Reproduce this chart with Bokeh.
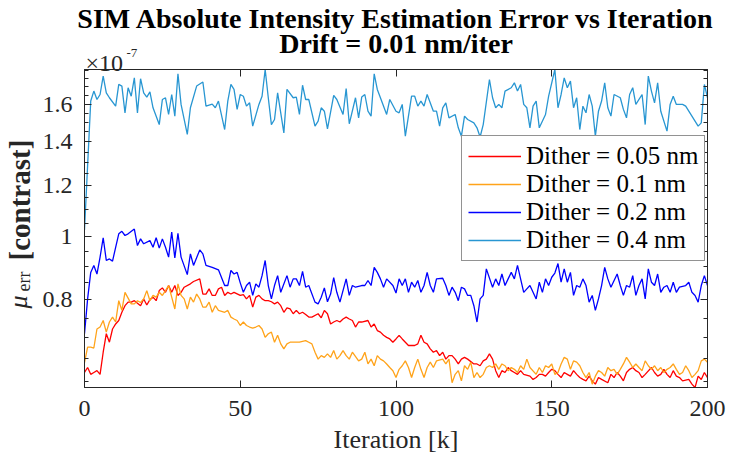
from math import pi

from bokeh.plotting import figure
from bokeh.models import (Range1d, FixedTicker, LinearAxis, LogAxis, Legend,
                          LegendItem, Label, Title, CustomJSTickFormatter)
from bokeh.embed import file_html
from bokeh.resources import INLINE

# ---- data: estimation error (units of 1e-7 contrast) vs iteration [k] ----
iter_d005 = [0, 1, 2, 3, 4, 5, 6, 7, 8, 9,
             10, 11, 12, 13, 14, 15, 16, 18, 19, 20,
             21, 22, 23, 24, 25, 26, 27, 28, 29, 30,
             31, 32, 34, 35, 37, 38, 39, 40, 41, 42,
             43, 44, 45, 46, 47, 48, 50, 51, 52, 53,
             54, 55, 56, 57, 58, 59, 60, 61, 62, 63,
             64, 65, 66, 67, 68, 69, 70, 71, 72, 73,
             75, 76, 77, 78, 79, 80, 81, 82, 83, 84,
             85, 86, 87, 88, 89, 91, 92, 93, 94, 95,
             96, 97, 98, 99, 100, 101, 102, 103, 104, 106,
             107, 108, 109, 110, 111, 112, 113, 114, 115, 116,
             117, 118, 119, 120, 121, 122, 123, 125, 126, 127,
             128, 129, 130, 131, 132, 133, 134, 135, 136, 137,
             138, 139, 140, 141, 143, 144, 145, 146, 147, 148,
             149, 150, 151, 152, 153, 154, 155, 156, 157, 158,
             159, 160, 161, 162, 163, 164, 165, 166, 168, 169,
             170, 171, 172, 173, 174, 175, 176, 177, 178, 179,
             180, 182, 183, 184, 185, 186, 187, 188, 189, 190,
             191, 192, 194, 195, 196, 197, 198, 199, 200]
err_d005 = [0.619, 0.630, 0.615, 0.619, 0.623, 0.615, 0.665, 0.710, 0.689, 0.722,
            0.735, 0.744, 0.766, 0.784, 0.794, 0.794, 0.798, 0.784, 0.803, 0.786,
            0.801, 0.808, 0.798, 0.827, 0.835, 0.822, 0.842, 0.822, 0.842, 0.813,
            0.822, 0.837, 0.847, 0.854, 0.862, 0.817, 0.817, 0.832, 0.813, 0.813,
            0.832, 0.837, 0.813, 0.822, 0.817, 0.822, 0.813, 0.815, 0.803, 0.813,
            0.780, 0.808, 0.813, 0.803, 0.798, 0.798, 0.795, 0.789, 0.794, 0.784,
            0.766, 0.778, 0.775, 0.762, 0.771, 0.762, 0.766, 0.760, 0.753, 0.753,
            0.762, 0.751, 0.771, 0.762, 0.735, 0.740, 0.744, 0.740, 0.748, 0.753,
            0.748, 0.744, 0.727, 0.740, 0.740, 0.744, 0.727, 0.735, 0.718, 0.714,
            0.706, 0.701, 0.697, 0.689, 0.697, 0.706, 0.697, 0.689, 0.681, 0.681,
            0.685, 0.706, 0.689, 0.685, 0.673, 0.665, 0.669, 0.657, 0.665, 0.649,
            0.657, 0.657, 0.649, 0.638, 0.649, 0.653, 0.649, 0.638, 0.638, 0.634,
            0.645, 0.649, 0.661, 0.649, 0.623, 0.608, 0.623, 0.619, 0.630, 0.623,
            0.619, 0.615, 0.623, 0.615, 0.611, 0.604, 0.608, 0.615, 0.615, 0.611,
            0.619, 0.626, 0.623, 0.615, 0.608, 0.619, 0.615, 0.611, 0.623, 0.615,
            0.608, 0.604, 0.601, 0.611, 0.601, 0.594, 0.608, 0.604, 0.597, 0.615,
            0.608, 0.619, 0.611, 0.601, 0.619, 0.626, 0.630, 0.623, 0.619, 0.608,
            0.615, 0.630, 0.619, 0.611, 0.615, 0.626, 0.615, 0.608, 0.623, 0.611,
            0.608, 0.601, 0.604, 0.594, 0.587, 0.611, 0.604, 0.619, 0.608]

iter_d01 = [0, 1, 2, 3, 4, 5, 6, 7, 8, 9,
            10, 11, 12, 13, 15, 16, 17, 18, 19, 20,
            21, 22, 23, 24, 25, 26, 27, 28, 29, 30,
            31, 32, 33, 34, 35, 36, 37, 38, 39, 40,
            41, 42, 43, 45, 46, 47, 48, 49, 50, 51,
            52, 53, 54, 55, 56, 57, 58, 59, 60, 61,
            62, 63, 64, 65, 66, 68, 69, 71, 72, 73,
            74, 75, 76, 77, 78, 79, 80, 81, 82, 83,
            84, 85, 86, 88, 89, 90, 91, 92, 93, 94,
            95, 96, 97, 98, 99, 100, 101, 102, 103, 104,
            105, 106, 107, 108, 109, 110, 111, 112, 113, 115,
            116, 117, 118, 119, 120, 121, 122, 123, 124, 125,
            126, 127, 128, 129, 130, 131, 132, 133, 134, 135,
            136, 137, 138, 139, 140, 141, 142, 143, 145, 146,
            147, 148, 149, 150, 151, 152, 153, 154, 155, 156,
            157, 158, 159, 160, 161, 162, 163, 164, 165, 166,
            167, 168, 169, 170, 171, 172, 173, 174, 175, 176,
            177, 178, 179, 180, 181, 182, 183, 184, 185, 186,
            187, 188, 189, 190, 191, 192, 193, 194, 195, 196,
            197, 198, 199, 200]
err_d01 = [0.641, 0.677, 0.677, 0.675, 0.722, 0.727, 0.744, 0.714, 0.740, 0.753,
           0.740, 0.798, 0.771, 0.822, 0.789, 0.789, 0.798, 0.793, 0.803, 0.827,
           0.798, 0.813, 0.808, 0.822, 0.813, 0.827, 0.842, 0.808, 0.775, 0.847,
           0.813, 0.803, 0.775, 0.808, 0.794, 0.817, 0.803, 0.780, 0.780, 0.794,
           0.766, 0.784, 0.771, 0.766, 0.771, 0.753, 0.748, 0.744, 0.731, 0.740,
           0.731, 0.727, 0.724, 0.727, 0.731, 0.722, 0.701, 0.710, 0.714, 0.689,
           0.706, 0.685, 0.673, 0.685, 0.689, 0.689, 0.689, 0.693, 0.689, 0.685,
           0.665, 0.649, 0.657, 0.653, 0.661, 0.653, 0.669, 0.649, 0.657, 0.669,
           0.657, 0.649, 0.665, 0.645, 0.649, 0.665, 0.638, 0.649, 0.634, 0.657,
           0.649, 0.645, 0.638, 0.630, 0.623, 0.608, 0.626, 0.634, 0.645, 0.630,
           0.608, 0.630, 0.649, 0.626, 0.608, 0.630, 0.642, 0.630, 0.645, 0.649,
           0.638, 0.649, 0.597, 0.615, 0.623, 0.601, 0.634, 0.626, 0.642, 0.608,
           0.619, 0.608, 0.615, 0.630, 0.634, 0.630, 0.638, 0.626, 0.638, 0.634,
           0.623, 0.630, 0.626, 0.619, 0.634, 0.626, 0.649, 0.630, 0.615, 0.630,
           0.619, 0.634, 0.630, 0.638, 0.615, 0.619, 0.638, 0.653, 0.649, 0.626,
           0.645, 0.642, 0.634, 0.619, 0.608, 0.619, 0.594, 0.611, 0.623, 0.619,
           0.611, 0.630, 0.623, 0.626, 0.615, 0.626, 0.638, 0.653, 0.642, 0.630,
           0.638, 0.630, 0.623, 0.645, 0.634, 0.626, 0.634, 0.623, 0.630, 0.619,
           0.626, 0.630, 0.638, 0.626, 0.615, 0.619, 0.634, 0.623, 0.608, 0.615,
           0.623, 0.645, 0.649, 0.642]

iter_d02 = [0, 1, 2, 3, 4, 5, 6, 7, 8, 9,
            10, 11, 12, 13, 14, 16, 17, 18, 19, 21,
            22, 23, 24, 25, 26, 27, 28, 29, 30, 31,
            33, 34, 35, 37, 38, 39, 41, 43, 45, 46,
            47, 48, 49, 50, 51, 52, 53, 54, 55, 56,
            57, 58, 59, 60, 61, 62, 63, 65, 66, 67,
            68, 69, 70, 71, 72, 74, 75, 76, 77, 78,
            79, 80, 81, 82, 84, 85, 86, 87, 89, 90,
            91, 92, 93, 94, 95, 96, 97, 99, 100, 101,
            102, 103, 104, 105, 106, 107, 108, 109, 110, 111,
            112, 113, 115, 116, 117, 118, 119, 120, 121, 122,
            123, 124, 125, 126, 127, 128, 129, 131, 132, 133,
            134, 135, 136, 137, 138, 139, 140, 141, 142, 143,
            145, 146, 147, 148, 149, 150, 151, 152, 153, 154,
            155, 156, 157, 158, 159, 160, 161, 162, 163, 164,
            165, 166, 167, 168, 169, 171, 172, 173, 174, 175,
            176, 177, 178, 179, 180, 181, 182, 183, 184, 185,
            186, 187, 188, 189, 190, 191, 193, 194, 195, 196,
            197, 198, 199, 200]
err_d02 = [0.710, 0.803, 0.882, 0.904, 0.877, 0.931, 0.997, 0.920, 0.925, 0.918,
           0.964, 1.011, 1.020, 1.005, 1.011, 1.028, 0.970, 0.993, 0.976, 0.987,
           0.964, 0.997, 0.961, 0.993, 0.964, 0.931, 1.017, 0.928, 1.013, 0.931,
           0.875, 0.942, 0.904, 0.955, 0.942, 0.904, 0.898, 0.890, 0.842, 0.842,
           0.888, 0.877, 0.882, 0.850, 0.822, 0.842, 0.852, 0.813, 0.847, 0.837,
           0.872, 0.920, 0.842, 0.803, 0.842, 0.872, 0.822, 0.872, 0.837, 0.862,
           0.862, 0.842, 0.885, 0.837, 0.842, 0.794, 0.789, 0.808, 0.835, 0.795,
           0.817, 0.866, 0.822, 0.794, 0.862, 0.813, 0.842, 0.837, 0.842, 0.842,
           0.857, 0.842, 0.898, 0.882, 0.862, 0.837, 0.862, 0.842, 0.820, 0.862,
           0.842, 0.862, 0.822, 0.852, 0.837, 0.857, 0.822, 0.842, 0.882, 0.842,
           0.822, 0.862, 0.864, 0.842, 0.813, 0.837, 0.822, 0.798, 0.837, 0.832,
           0.813, 0.813, 0.784, 0.740, 0.803, 0.813, 0.893, 0.837, 0.862, 0.842,
           0.877, 0.842, 0.862, 0.882, 0.862, 0.904, 0.862, 0.822, 0.832, 0.842,
           0.803, 0.852, 0.822, 0.862, 0.842, 0.867, 0.880, 0.910, 0.852, 0.893,
           0.852, 0.882, 0.813, 0.842, 0.837, 0.862, 0.842, 0.794, 0.813, 0.771,
           0.803, 0.842, 0.898, 0.862, 0.837, 0.877, 0.842, 0.813, 0.842, 0.837,
           0.872, 0.813, 0.842, 0.862, 0.803, 0.893, 0.852, 0.842, 0.877, 0.822,
           0.837, 0.842, 0.822, 0.852, 0.822, 0.837, 0.842, 0.852, 0.822, 0.813,
           0.794, 0.842, 0.872, 0.842]

iter_d04 = [0, 2, 3, 4, 5, 6, 7, 8, 10, 11,
            12, 13, 14, 15, 16, 17, 18, 19, 20, 21,
            22, 24, 25, 26, 27, 28, 29, 30, 31, 33,
            34, 36, 38, 39, 41, 42, 43, 45, 46, 47,
            48, 49, 50, 51, 52, 53, 54, 56, 57, 58,
            59, 60, 61, 62, 64, 65, 67, 68, 69, 70,
            71, 72, 74, 75, 76, 77, 78, 80, 81, 83,
            84, 85, 87, 88, 89, 90, 91, 92, 93, 94,
            95, 97, 98, 100, 101, 102, 103, 105, 106, 107,
            108, 109, 110, 112, 113, 114, 115, 116, 117, 119,
            120, 121, 122, 123, 125, 126, 127, 128, 130, 131,
            132, 133, 134, 135, 137, 138, 139, 140, 141, 142,
            143, 144, 145, 146, 148, 149, 151, 152, 153, 154,
            155, 156, 157, 158, 159, 160, 161, 162, 163, 164,
            165, 166, 167, 168, 169, 170, 172, 173, 174, 175,
            176, 177, 179, 180, 181, 182, 183, 184, 185, 187,
            188, 189, 190, 192, 193, 195, 197, 198, 199, 200]
err_d04 = [1.025, 1.617, 1.675, 1.626, 1.655, 1.766, 1.665, 1.636, 1.588, 1.715,
           1.705, 1.551, 1.695, 1.645, 1.755, 1.551, 1.750, 1.665, 1.640, 1.670,
           1.579, 1.488, 1.626, 1.636, 1.542, 1.655, 1.533, 1.781, 1.598, 1.437,
           1.579, 1.705, 1.730, 1.588, 1.600, 1.579, 1.617, 1.462, 1.617, 1.715,
           1.685, 1.570, 1.655, 1.645, 1.588, 1.607, 1.480, 1.598, 1.645, 1.808,
           1.636, 1.488, 1.515, 1.665, 1.445, 1.685, 1.636, 1.640, 1.542, 1.710,
           1.626, 1.626, 1.480, 1.506, 1.579, 1.560, 1.466, 1.650, 1.626, 1.542,
           1.690, 1.492, 1.636, 1.524, 1.640, 1.655, 1.560, 1.533, 1.781, 1.685,
           1.636, 1.542, 1.626, 1.560, 1.551, 1.598, 1.428, 1.645, 1.645, 1.588,
           1.617, 1.588, 1.655, 1.560, 1.560, 1.480, 1.579, 1.607, 1.524, 1.542,
           1.471, 1.428, 1.533, 1.515, 1.497, 1.471, 1.424, 1.488, 1.745, 1.636,
           1.579, 1.598, 1.579, 1.675, 1.695, 1.725, 1.675, 1.715, 1.598, 1.579,
           1.471, 1.588, 1.617, 1.471, 1.542, 1.645, 1.808, 1.579, 1.655, 1.755,
           1.695, 1.735, 1.579, 1.636, 1.462, 1.588, 1.551, 1.655, 1.588, 1.428,
           1.560, 1.617, 1.725, 1.579, 1.533, 1.655, 1.636, 1.570, 1.524, 1.655,
           1.695, 1.598, 1.655, 1.488, 1.766, 1.675, 1.607, 1.725, 1.560, 1.454,
           1.598, 1.645, 1.598, 1.598, 1.588, 1.533, 1.480, 1.497, 1.715, 1.636]

series_labels = ["Dither = 0.05 nm", "Dither = 0.1 nm", "Dither = 0.2 nm", "Dither = 0.4 nm"]
series_colors = ["#FF0000", "#FFA31A", "#0000FF", "#2896D2"]

x_ticks = [0, 50, 100, 150, 200]
y_ticks = [0.8, 1.0, 1.2, 1.4, 1.6]
y_minor = [round(0.6 + 0.05 * i, 2) for i in range(25)]

SERIF = "Liberation Serif"
INK = "#262626"

all_err = err_d005 + err_d01 + err_d02 + err_d04

p = figure(width=730, height=456, output_backend="svg", toolbar_location=None,
           x_range=Range1d(0, 200),
           y_range=Range1d(min(all_err), max(all_err)),
           y_axis_type="log", x_axis_location=None, y_axis_location=None,
           min_border_left=84, min_border_right=23,
           min_border_top=69, min_border_bottom=69,
           background_fill_color="white", border_fill_color="white")
p.title = None
p.grid.visible = False
p.outline_line_color = INK
p.outline_line_width = 1


def style_axis(ax):
    ax.axis_line_color = INK
    ax.axis_line_width = 1
    ax.major_tick_line_color = INK
    ax.minor_tick_line_color = INK
    ax.major_tick_in = 7
    ax.major_tick_out = 0
    ax.minor_tick_in = 4
    ax.minor_tick_out = 0
    ax.major_label_text_font = SERIF
    ax.major_label_text_color = INK
    ax.major_label_text_font_size = "24px"


fmt = CustomJSTickFormatter(code="return tick.toFixed(1).replace(/\\.0$/, '');")
blank = CustomJSTickFormatter(code="return '';")

x_bottom = LinearAxis(ticker=FixedTicker(ticks=x_ticks))
style_axis(x_bottom)
x_bottom.major_label_standoff = 13
x_bottom.axis_label = "Iteration [k]"
x_bottom.axis_label_text_font = SERIF
x_bottom.axis_label_text_font_size = "26px"
x_bottom.axis_label_text_font_style = "normal"
x_bottom.axis_label_text_color = INK
x_bottom.axis_label_standoff = 6
p.add_layout(x_bottom, "below")

y_left = LogAxis(ticker=FixedTicker(ticks=y_ticks, minor_ticks=y_minor), formatter=fmt)
style_axis(y_left)
y_left.major_label_standoff = 12
p.add_layout(y_left, "left")

# mirrored box ticks on top and right, without labels
x_top = LinearAxis(ticker=FixedTicker(ticks=x_ticks), formatter=blank)
style_axis(x_top)
x_top.major_label_standoff = 3
p.add_layout(x_top, "above")

y_right = LogAxis(ticker=FixedTicker(ticks=y_ticks, minor_ticks=y_minor), formatter=blank)
style_axis(y_right)
y_right.major_label_standoff = 0
p.add_layout(y_right, "right")


def canvas_label(x, y, text, size, style="normal", angle=0.0):
    return Label(x=x, y=y, x_units="canvas", y_units="canvas", text=text, angle=angle,
                 text_font=SERIF, text_font_style=style, text_font_size=size,
                 text_color=INK, text_baseline="alphabetic", text_align="left")


def title(text, standoff):
    return Title(text=text, align="center", text_font=SERIF, text_font_size="28px",
                 text_font_style="bold", text_color="black", standoff=standoff)


# Top border, stacked outward from the frame.  Negative standoffs keep the
# title panels thin so the exponent text shares the same border.
p.add_layout(canvas_label(85, 62, "×10", "24px"), "above")
p.add_layout(title("Drift = 0.01 nm/iter", -30.9), "above")
p.add_layout(canvas_label(18, 308, "μ", "26px", "italic", pi / 2), "above")
p.add_layout(canvas_label(126, 52, "-7", "13px"), "above")
p.add_layout(title("SIM Absolute Intensity Estimation Error vs Iteration", -26.5), "above")

# y-axis label pieces
p.add_layout(canvas_label(19, 260, "[contrast]", "29px", "bold", pi / 2), "left")
p.add_layout(canvas_label(23, 291, "err", "18px", "normal", pi / 2), "right")

# the four dither curves
iters = [iter_d005, iter_d01, iter_d02, iter_d04]
errs = [err_d005, err_d01, err_d02, err_d04]
items = []
for xs, ys, lab, col in zip(iters, errs, series_labels, series_colors):
    r = p.line(xs, ys, line_color=col, line_width=1.3)
    items.append(LegendItem(label=lab, renderers=[r]))

legend = Legend(items=items, location=(377, 126),
                label_text_font=SERIF, label_text_font_size="25px", label_text_color="black",
                glyph_width=53, glyph_height=28, label_height=28, label_standoff=5,
                spacing=0, padding=6, margin=0,
                border_line_color=INK, border_line_width=1,
                background_fill_color="white", background_fill_alpha=1.0)
p.add_layout(legend)

open("out.html", "w").write(file_html(p, INLINE))
